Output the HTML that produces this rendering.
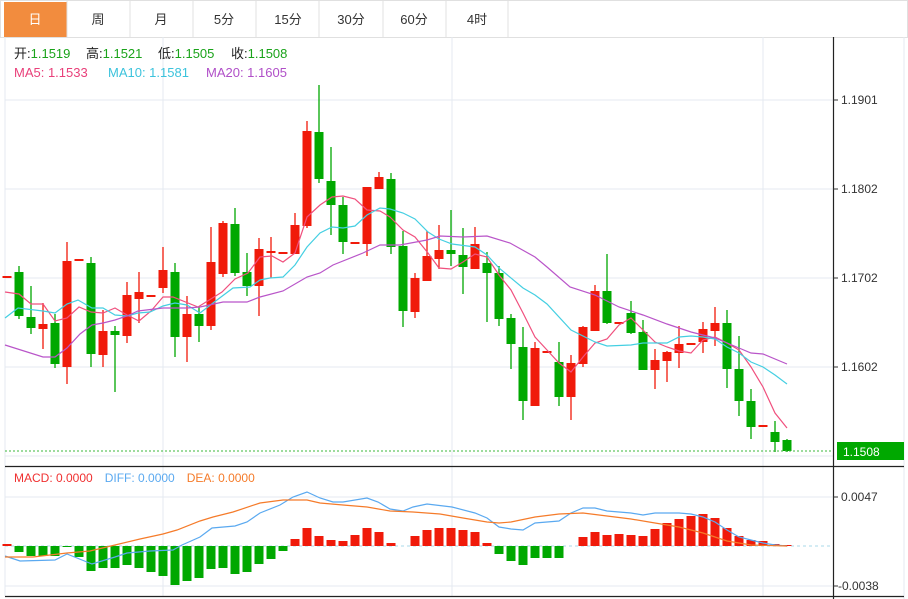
<!DOCTYPE html>
<html><head><meta charset="utf-8">
<style>
body{margin:0;width:908px;height:599px;background:#fff;overflow:hidden;font-family:"Liberation Sans","Noto Sans CJK SC",sans-serif;}
svg{position:absolute;left:0;top:0}
</style></head><body>
<svg id="s" width="908" height="599" xmlns="http://www.w3.org/2000/svg" font-family="Liberation Sans, Noto Sans CJK SC, sans-serif">
<rect x="0" y="0" width="908" height="599" fill="#fff"/>
<rect x="0.5" y="0.5" width="907" height="37" fill="#fff" stroke="#e0e0e0"/>
<rect x="4" y="2" width="63" height="35" fill="#f28c3e"/>
<g stroke="#e0e0e0"><line x1="67" y1="0" x2="67" y2="37"/><line x1="130" y1="0" x2="130" y2="37"/><line x1="193" y1="0" x2="193" y2="37"/><line x1="256" y1="0" x2="256" y2="37"/><line x1="319" y1="0" x2="319" y2="37"/><line x1="383" y1="0" x2="383" y2="37"/><line x1="446" y1="0" x2="446" y2="37"/><line x1="508" y1="0" x2="508" y2="37"/></g>
<g font-size="13" text-anchor="middle" fill="#333">
<text x="35" y="24" fill="#fff">日</text><text x="98" y="24">周</text><text x="161" y="24">月</text><text x="224" y="24">5分</text><text x="288" y="24">15分</text><text x="351" y="24">30分</text><text x="414" y="24">60分</text><text x="477" y="24">4时</text>
</g>
<g stroke="#e4eaf0" stroke-width="1">
<line x1="5" y1="100" x2="833" y2="100"/><line x1="5" y1="189" x2="833" y2="189"/><line x1="5" y1="278" x2="833" y2="278"/><line x1="5" y1="367" x2="833" y2="367"/><line x1="5" y1="456" x2="833" y2="456"/>
<line x1="5" y1="497" x2="833" y2="497"/><line x1="5" y1="586" x2="833" y2="586"/>
<line x1="5" y1="37" x2="5" y2="596"/><line x1="163" y1="37" x2="163" y2="596"/><line x1="452" y1="37" x2="452" y2="596"/><line x1="763" y1="37" x2="763" y2="596"/>
<line x1="904" y1="37" x2="904" y2="599"/>
</g>
<g id="c"></g>
<g stroke="#222" stroke-width="1.2"><line x1="5" y1="466.5" x2="904" y2="466.5"/><line x1="5" y1="596.5" x2="904" y2="596.5"/><line x1="833.5" y1="37" x2="833.5" y2="599"/></g>
<g stroke="#333"><line x1="833" y1="100" x2="838" y2="100"/><line x1="833" y1="189" x2="838" y2="189"/><line x1="833" y1="278" x2="838" y2="278"/><line x1="833" y1="367" x2="838" y2="367"/><line x1="833" y1="497" x2="838" y2="497"/><line x1="833" y1="586" x2="838" y2="586"/></g>
<g font-size="12" fill="#333"><text x="841" y="104">1.1901</text><text x="841" y="193">1.1802</text><text x="841" y="282">1.1702</text><text x="841" y="371">1.1602</text><text x="841" y="501">0.0047</text><text x="838" y="590">-0.0038</text></g>
<line x1="5" y1="451" x2="833" y2="451" stroke="#3cb83c" stroke-dasharray="2,2"/>
<rect x="837" y="442" width="67" height="18" fill="#00a800"/>
<text x="843" y="456" font-size="12" fill="#fff">1.1508</text>
<g font-size="13">
<text x="14" y="58" fill="#222">开:<tspan fill="#1aa31a">1.1519</tspan></text>
<text x="86" y="58" fill="#222">高:<tspan fill="#1aa31a">1.1521</tspan></text>
<text x="158" y="58" fill="#222">低:<tspan fill="#1aa31a">1.1505</tspan></text>
<text x="231" y="58" fill="#222">收:<tspan fill="#1aa31a">1.1508</tspan></text>
<text x="14" y="77" fill="#e9407a">MA5: 1.1533</text>
<text x="108" y="77" fill="#3cc3dc">MA10: 1.1581</text>
<text x="206" y="77" fill="#b04fc8">MA20: 1.1605</text>
</g>
<g font-size="12">
<text x="14" y="482"><tspan fill="#f03030">MACD: 0.0000</tspan><tspan fill="#5aa9f0" dx="12">DIFF: 0.0000</tspan><tspan fill="#f57b2a" dx="12">DEA: 0.0000</tspan></text>
</g>
</svg>
<script>
var R="#f01a0a",G="#00a800";
var C=[[277,277,276,278,R],[266,319,272,316,G],[286,334,317,328,G],[303,349,324,329,R],[314,368,323,364,G],[242,384,261,367,R],[260,260,259,261,R],[257,367,263,354,G],[310,367,331,355,R],[326,392,331,335,G],[282,343,295,336,R],[272,323,292,299,R],[296,296,295,297,R],[247,293,270,288,R],[263,357,272,337,G],[296,362,314,337,R],[307,342,314,326,G],[227,330,262,326,R],[221,277,223,274,R],[208,276,224,273,G],[253,296,272,286,G],[238,316,249,286,R],[237,278,251,253,R],[253,253,252,254,R],[213,254,225,254,R],[121,228,131,226,R],[85,183,132,179,G],[147,235,181,205,G],[197,254,205,242,G],[243,243,242,244,R],[187,256,187,244,R],[172,189,177,189,R],[173,254,179,247,G],[231,327,246,311,G],[273,318,278,312,R],[231,281,256,281,R],[225,269,250,259,R],[210,266,250,254,G],[228,294,255,267,G],[227,269,244,269,R],[252,322,263,273,G],[266,326,273,319,G],[314,369,318,344,G],[327,420,347,401,G],[342,406,348,406,R],[352,352,351,353,R],[342,406,362,397,G],[355,420,363,397,R],[326,367,327,364,R],[285,331,291,331,R],[254,324,291,323,G],[323,323,322,324,R],[301,334,313,333,G],[320,370,332,370,G],[349,389,360,370,R],[351,382,352,361,R],[326,368,344,353,R],[344,344,343,345,R],[322,353,329,342,R],[307,346,323,331,R],[310,388,323,369,G],[336,416,369,401,G],[389,439,401,427,G],[426,426,425,427,R],[421,452,432,442,G],[439,452,440,451,G]];
var M=[544,552,556,556,556,547,557,571,568,568,565,568,572,576,585,581,578,569,568,574,572,564,559,551,539,528,536,540,541,535,528,532,543,546,536,530,528,528,530,532,543,554,561,565,558,558,558,546,537,532,535,534,535,536,529,523,519,516,514,518,528,536,540,541,544,545];
var h="";
h+='<line x1="5" y1="546" x2="833" y2="546" stroke="#a8d8ea" stroke-dasharray="3,3"/>';
M.forEach(function(v,i){var x=7+12*i-4.5;var c=v<546?R:G;var t=Math.min(v,546),b=Math.max(v,546);if(b-t<1){return;}h+='<rect x="'+x+'" y="'+t+'" width="9" height="'+(b-t)+'" fill="'+c+'"/>';});
C.forEach(function(d,i){var x=7+12*i;var hb=Math.max(d[3]-d[2],2);var col=d[4];
if(d[1]-d[0]>1)h+='<line x1="'+x+'" y1="'+d[0]+'" x2="'+x+'" y2="'+d[1]+'" stroke="'+col+'" stroke-width="1.3"/>';
h+='<rect x="'+(x-4.5)+'" y="'+d[2]+'" width="9" height="'+hb+'" fill="'+col+'"/>';});
function pl(p,c){h+='<polyline fill="none" stroke="'+c+'" stroke-width="1.2" points="'+p+'"/>';}
pl("5,292 19,294 31,304 43,304 55,321 67,318 79,307 91,312 103,313 115,308 127,315 139,321 151,311 163,297 173,297 198,307 222,292 235,279 248,273 260,257 272,256 283,262 295,253 307,217 320,205 332,197 343,196 355,199 367,210 380,211 390,217 403,230 415,237 428,253 439,268 451,269 463,262 475,254 487,257 499,275 511,290 523,313 535,337 547,350 559,363 571,372 583,357 595,343 607,339 619,325 631,318 643,330 655,342 667,347 679,351 691,353 703,340 715,337 727,343 739,350 751,367 763,387 775,413 787,428","#f0507e");
pl("5,318 18,308 43,311 55,313 67,304 78,300 92,308 103,308 115,315 127,316 138,313 150,312 163,306 175,303 187,305 200,313 213,303 233,288 250,287 260,280 270,278 283,277 295,265 307,247 320,233 332,227 343,228 355,226 367,215 380,208 390,209 403,213 415,219 428,232 439,239 452,244 475,247 487,255 499,268 523,288 535,295 547,304 571,330 595,342 607,346 631,345 643,343 667,343 679,337 691,336 703,337 715,339 727,347 739,353 751,362 763,367 775,375 787,384","#44cfe2");
pl("5,345 43,357 55,357 67,348 80,334 92,325 103,323 115,320 127,316 138,311 163,308 187,308 200,307 223,302 247,302 260,297 283,291 307,277 320,273 333,265 363,253 380,245 400,245 427,240 440,236 463,237 487,236 510,243 535,257 547,267 570,287 595,295 619,307 643,315 667,324 691,332 715,338 739,348 751,353 763,354 787,364","#b955c9");
pl("5,556 20,561 55,560 67,554 92,564 115,557 127,553 150,551 173,550 182,545 200,537 212,528 235,526 247,522 260,513 280,505 293,497 307,492 320,498 333,502 343,502 367,498 378,502 390,509 403,511 413,507 427,504 452,507 475,513 487,518 499,527 511,529 523,530 535,523 559,521 571,513 583,508 595,508 607,511 631,513 643,515 655,513 679,513 691,514 703,517 715,522 727,530 739,537 751,540 763,543 775,545 787,546","#5aa9f0");
pl("5,557 33,557 67,553 90,551 115,545 140,539 163,534 177,530 200,521 213,517 233,512 260,503 283,500 307,500 320,503 343,505 367,507 390,511 413,512 440,514 463,518 487,522 499,523 511,522 535,517 559,514 583,513 607,516 631,519 655,523 679,527 703,533 715,537 727,541 751,545 787,546","#f57b2a");
document.getElementById("c").innerHTML=h;
</script>
</body></html>
